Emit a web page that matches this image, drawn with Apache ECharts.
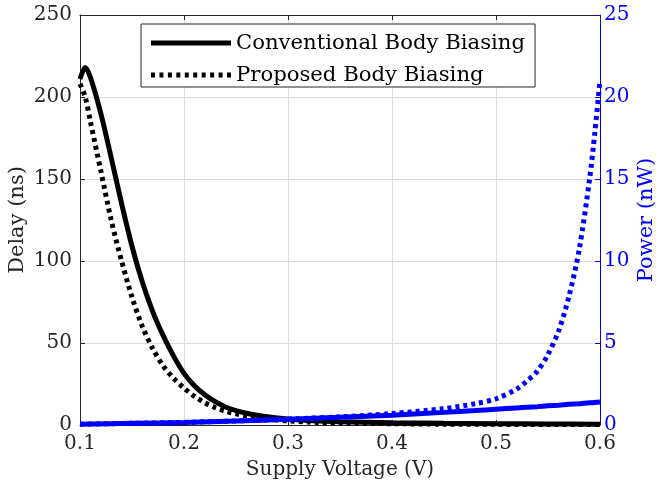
<!DOCTYPE html>
<html>
<head>
<meta charset="utf-8">
<script src="https://cdn.jsdelivr.net/npm/echarts@6/dist/echarts.min.js"></script>
<style>
  html, body { margin: 0; padding: 0; background: #fff; }
  #chart { width: 656px; height: 482px; }
</style>
</head>
<body>
<div id="chart"></div>
<script>
// supply voltage (V) samples for the delay curves
const delayVolt = [0.100, 0.105, 0.110, 0.120, 0.130, 0.140, 0.150, 0.160, 0.170, 0.180,
  0.190, 0.200, 0.210, 0.220, 0.230, 0.240, 0.250, 0.260, 0.270, 0.280, 0.290, 0.300,
  0.320, 0.350, 0.400, 0.450, 0.500, 0.550, 0.600];
// delay (ns)
const delayConv = [211, 218, 212, 190, 163, 135, 109, 87, 69, 54.5,
  42, 31.5, 24, 18.5, 14.2, 11, 8.8, 7.2, 6, 5.1, 4.3, 3.7,
  2.8, 2, 1.4, 1, 0.8, 0.6, 0.5];
const delayProp = [208, 200, 185, 155, 125, 100, 78, 60, 46.5, 36,
  28.5, 22.5, 17.5, 13.6, 10.6, 8.4, 6.8, 5.6, 4.7, 3.8, 3.1, 2.5,
  1.8, 1.2, 0.8, 0.5, 0.4, 0.3, 0.3];

// supply voltage (V) samples for the power curves
const powerVolt = [0.10, 0.15, 0.20, 0.25, 0.30, 0.35, 0.40, 0.45, 0.48, 0.50,
  0.52, 0.53, 0.54, 0.55, 0.56, 0.57, 0.58, 0.59, 0.595, 0.60];
// power (nW)
const powerConv = [0.05, 0.1, 0.15, 0.24, 0.35, 0.47, 0.6, 0.77, 0.88, 0.96,
  1.04, 1.08, 1.12, 1.17, 1.21, 1.26, 1.3, 1.35, 1.37, 1.4];
const powerProp = [0.05, 0.1, 0.16, 0.25, 0.36, 0.5, 0.7, 1.0, 1.3, 1.6,
  2.2, 2.7, 3.3, 4.3, 5.7, 7.8, 10.7, 15, 17.8, 21];

const xTicks = [0.1, 0.2, 0.3, 0.4, 0.5, 0.6];

const seriesNames = ["Conventional Body Biasing", "Proposed Body Biasing"];

function pairs(xs, ys) {
  return xs.map((x, i) => [x, ys[i]]);
}

// legend sample icons: a solid bar and a row of square dots
const solidIcon = "path://M0,0H80V5H0Z";
let dotPath = "";
for (let k = 0; k < 10; k++) {
  let x0 = (k * 76 / 9).toFixed(2);
  dotPath += "M" + x0 + ",0h4v5h-4Z";
}
const dotIcon = "path://" + dotPath;

(function () {
  let dom = document.querySelector("#chart");
  let myChart = echarts.init(dom);
  const font = "DejaVu Serif";
  const ink = "#262626";
  const blue = "#0000ff";
  let options = {
    animation: false,
    textStyle: { fontFamily: font },
    grid: { left: 80, right: 56, top: 15, bottom: 57, outerBoundsMode: "none", containLabel: false },
    legend: {
      orient: "vertical",
      left: 141,
      top: 24,
      padding: [8, 10, 1, 10],
      itemWidth: 80,
      itemHeight: 5,
      itemGap: 10,
      symbolKeepAspect: false,
      backgroundColor: "#fff",
      borderColor: ink,
      borderWidth: 1,
      data: [
        { name: seriesNames[0], icon: solidIcon },
        { name: seriesNames[1], icon: dotIcon }
      ],
      itemStyle: { color: "#000" },
      textStyle: { fontFamily: font, fontSize: 21.2, lineHeight: 22, color: "#000" }
    },
    xAxis: [
      {
        type: "value",
        min: 0.1,
        max: 0.6,
        interval: 0.1,
        name: "Supply Voltage (V)",
        nameLocation: "middle",
        nameGap: 35,
        nameMoveOverlap: false,
        nameTextStyle: { fontFamily: font, fontSize: 20, color: ink },
        axisLine: { lineStyle: { color: ink, width: 1 } },
        axisTick: { inside: true, length: 5, lineStyle: { color: ink } },
        axisLabel: {
          fontFamily: font, fontSize: 20, color: ink, margin: 9,
          formatter: v => xTicks.find(t => Math.abs(t - v) < 1e-6).toFixed(1)
        },
        splitLine: { lineStyle: { color: "#dcdcdc" } }
      },
      {
        type: "value",
        position: "top",
        min: 0.1,
        max: 0.6,
        interval: 0.1,
        axisLine: { onZero: false, lineStyle: { color: ink, width: 1 } },
        axisTick: { inside: true, length: 5, lineStyle: { color: ink } },
        axisLabel: { show: false },
        splitLine: { show: false }
      }
    ],
    yAxis: [
      {
        type: "value",
        min: 0,
        max: 250,
        interval: 50,
        name: "Delay (ns)",
        nameLocation: "middle",
        nameGap: 52,
        nameMoveOverlap: false,
        nameTextStyle: { fontFamily: font, fontSize: 21, color: ink },
        axisLine: { show: true, lineStyle: { color: ink, width: 1 } },
        axisTick: { show: true, inside: true, length: 5, lineStyle: { color: ink } },
        axisLabel: { fontFamily: font, fontSize: 20, color: ink, margin: 8 },
        splitLine: { lineStyle: { color: "#dcdcdc" } }
      },
      {
        type: "value",
        position: "right",
        min: 0,
        max: 25,
        interval: 5,
        name: "Power (nW)",
        nameLocation: "middle",
        nameGap: 36,
        nameRotate: 90,
        nameMoveOverlap: false,
        nameTextStyle: { fontFamily: font, fontSize: 21, color: blue },
        axisLine: { show: true, lineStyle: { color: blue, width: 1 } },
        axisTick: { show: true, inside: true, length: 5, lineStyle: { color: blue } },
        axisLabel: { fontFamily: font, fontSize: 20, color: blue, margin: 4 },
        splitLine: { show: false }
      }
    ],
    series: [
      {
        name: seriesNames[0],
        type: "line",
        smooth: 0.3,
        showSymbol: false,
        symbol: "none",
        yAxisIndex: 0,
        color: "#000",
        lineStyle: { color: "#000", width: 5 },
        data: pairs(delayVolt, delayConv)
      },
      {
        name: seriesNames[1],
        type: "line",
        smooth: 0.3,
        showSymbol: false,
        symbol: "none",
        yAxisIndex: 0,
        color: "#000",
        lineStyle: { color: "#000", width: 5, type: [4, 4], cap: "butt" },
        data: pairs(delayVolt, delayProp)
      },
      {
        name: "Conventional Power",
        type: "line",
        smooth: 0.3,
        showSymbol: false,
        symbol: "none",
        yAxisIndex: 1,
        color: blue,
        lineStyle: { color: blue, width: 5 },
        data: pairs(powerVolt, powerConv)
      },
      {
        name: "Proposed Power",
        type: "line",
        smooth: 0.3,
        showSymbol: false,
        symbol: "none",
        yAxisIndex: 1,
        color: blue,
        lineStyle: { color: blue, width: 5, type: [4, 4], cap: "butt" },
        data: pairs(powerVolt, powerProp)
      }
    ]
  };
  myChart.setOption(options);
  window.addEventListener("resize", () => {
    myChart.resize();
  });
})();
</script>
</body>
</html>
